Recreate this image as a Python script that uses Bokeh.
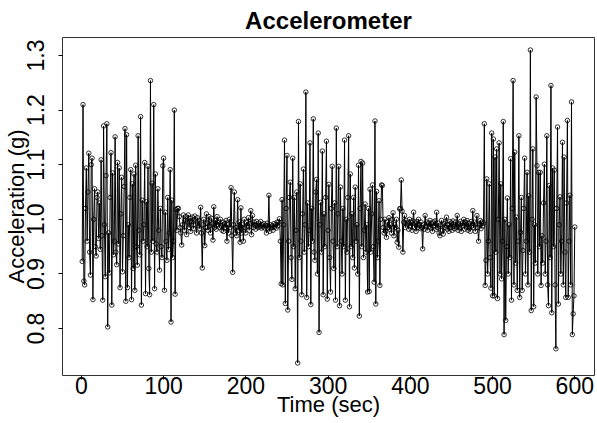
from bokeh.plotting import figure
from bokeh.models import FixedTicker, Range1d, PrintfTickFormatter
from bokeh.embed import file_html
from bokeh.resources import INLINE

# Accelerometer readings (g), one per second
active_1 = [
    0.923, 1.210, 0.887, 0.880, 1.020, 1.094, 0.960, 1.050, 1.121, 0.940,
    0.898, 1.100, 1.112, 0.853, 1.000, 1.056, 0.950, 0.933, 1.040, 1.050,
    0.965, 1.030, 0.945, 1.109, 0.970, 0.852, 1.171, 0.990, 0.895, 1.080,
    1.175, 0.803, 0.975, 0.902, 1.040, 1.122, 0.843, 1.085, 0.935, 0.960,
    1.151, 0.940, 0.917, 1.104, 0.955, 1.094, 0.875, 1.010, 1.077, 0.904,
    0.970, 1.060, 1.166, 0.850, 1.155, 0.875, 0.990, 0.930, 1.040, 1.091,
    0.853, 1.065, 0.910, 1.083, 0.870, 1.099, 0.950, 0.916, 1.153, 0.980,
    0.935, 1.188, 0.843, 1.035, 0.960, 0.990, 1.104, 0.864, 1.032, 0.950,
    1.097, 0.910, 0.862, 1.254, 0.940, 1.066, 0.960, 1.210, 0.873, 1.083,
    0.955, 0.940, 1.056, 0.980, 0.907, 1.020, 0.950, 0.930, 1.098, 1.112,
    0.870, 1.013, 0.960, 0.925, 1.040, 0.945, 0.975, 1.091, 0.812, 1.035,
    0.930, 0.960, 1.200, 0.863, 1.018, 0.980, 1.020, 1.020,
]
quiet_1 = [
    1.005, 0.985, 0.975, 0.953, 0.990, 1.008, 0.980, 0.998, 1.005, 0.972,
    0.995, 1.008, 0.985, 1.002, 0.978, 0.996, 1.004, 0.983, 0.999, 1.006,
    0.990, 0.975, 1.003, 0.988, 0.998, 0.983, 1.022, 0.975, 0.911, 0.990,
    1.000, 0.952, 0.985, 1.010, 0.993, 0.980, 1.005, 0.988, 0.975, 1.002,
    0.992, 0.962, 1.023, 0.985, 0.998, 0.982, 1.005, 0.990, 0.995, 0.985,
    1.000, 0.988, 0.980, 0.995, 0.978, 0.992, 0.985, 0.998, 0.960, 0.990,
    0.975, 1.000, 0.985, 1.058, 0.970, 0.903, 0.990, 1.050, 0.975, 0.985,
    0.970, 1.036, 0.980, 0.995, 0.958, 1.021, 0.975, 0.990, 0.960, 1.000,
    0.985, 0.975, 0.995, 0.988, 1.003, 0.980, 0.992, 1.016, 0.972, 1.007,
    0.985, 0.995, 0.990, 0.982, 0.996, 0.988, 0.985, 0.993, 0.987, 0.996,
    0.984, 0.990, 0.986, 0.992, 0.984, 0.989, 0.975, 0.993, 0.983, 1.044,
    0.978, 0.990, 0.985, 0.988, 0.980, 0.992, 0.986, 0.990, 0.984, 0.995,
    0.988,
]
active_2 = [
    0.995, 1.001, 0.960, 0.882, 1.036, 0.880, 0.990, 1.145, 0.846, 1.020,
    1.117, 0.834, 0.960, 1.040, 1.068, 0.930, 0.890, 1.112, 0.950, 1.040,
    0.873, 0.980, 1.050, 0.737, 1.179, 0.930, 1.065, 0.960, 0.862, 1.010,
    1.092, 0.940, 0.990, 1.233, 0.857, 1.030, 0.950, 0.980, 1.140, 0.844,
    1.020, 0.960, 1.184, 0.940, 0.925, 1.050, 1.073, 0.900, 1.158, 0.793,
    0.990, 1.031, 0.940, 1.125, 0.862, 1.010, 0.950, 1.040, 1.143, 0.854,
    0.980, 1.064, 0.930, 0.867, 1.020, 1.097, 0.960, 0.910, 1.030, 0.852,
    1.167, 0.950, 1.010, 1.097, 0.842, 1.059, 0.960, 0.900, 1.020, 0.950,
    1.145, 0.852, 1.000, 0.940, 1.040, 1.153, 0.840, 1.083, 0.950, 1.010,
    0.930, 1.040, 0.911, 1.059, 0.960, 0.990, 0.900, 1.099, 0.823, 1.020,
    1.106, 0.950, 1.103, 0.930, 0.980, 1.028, 0.940, 0.990, 0.867, 1.020,
    0.868, 1.055, 0.940, 1.010, 1.063, 0.950, 0.885, 1.180, 0.845, 1.051,
    0.930, 0.960, 1.034, 0.879, 1.000, 1.063, 1.062,
]
quiet_2 = [
    0.985, 0.975, 1.000, 0.978, 0.967, 0.995, 0.985, 1.003, 0.982, 0.990,
    0.975, 1.000, 1.012, 0.970, 0.990, 0.985, 1.000, 0.958, 0.980, 0.949,
    1.019, 1.020, 1.072, 1.015, 0.940, 0.995, 1.007, 0.985, 0.998, 0.990,
    0.993, 0.982, 1.000, 0.988, 0.995, 0.980, 0.997, 1.013, 0.985, 0.993,
    0.978, 0.996, 0.985, 1.000, 0.990, 0.983, 0.995, 0.985, 0.946, 0.990,
    0.982, 1.007, 0.988, 0.995, 0.980, 0.993, 0.986, 0.998, 0.984, 0.992,
    0.978, 0.995, 0.988, 0.997, 0.982, 1.013, 0.985, 0.993, 0.975, 0.970,
    0.990, 0.998, 0.980, 0.973, 0.992, 0.985, 0.996, 1.004, 0.982, 0.990,
    0.978, 0.996, 0.985, 0.993, 0.980, 0.997, 0.987, 0.983, 0.995, 0.986,
    1.007, 0.980, 0.992, 0.985, 0.996, 0.978, 0.993, 0.988, 1.000, 0.982,
    0.995, 0.986, 0.998, 0.980, 0.993, 0.985, 0.978, 0.996, 0.988, 1.016,
    0.985, 0.995, 0.978, 0.992, 1.007, 0.985, 0.960, 0.990, 0.998, 0.983,
    0.995, 0.988, 0.993,
]
active_3 = [
    1.175, 0.879, 0.925, 1.074, 0.900, 0.960, 1.065, 0.930, 0.874, 1.158,
    0.860, 1.147, 0.860, 1.114, 0.940, 1.129, 0.855, 1.000, 1.140, 0.900,
    1.065, 0.891, 0.960, 1.179, 0.789, 1.000, 0.815, 0.950, 1.039, 0.900,
    0.990, 0.930, 1.111, 0.852, 1.020, 1.254, 0.880, 1.123, 0.920, 1.004,
    0.870, 0.960, 1.153, 0.857, 0.976, 1.040, 0.870, 0.943, 1.020, 1.112,
    0.900, 0.960, 1.086, 0.880, 1.043, 0.940, 1.310, 0.833, 1.000, 1.129,
    0.840, 0.990, 0.920, 1.224, 1.098, 0.900, 1.086, 0.950, 1.086, 0.879,
    0.970, 0.920, 1.030, 1.101, 0.900, 0.960, 1.153, 0.880, 0.842, 1.062,
    0.930, 1.245, 0.829, 1.094, 0.950, 1.090, 0.880, 0.763, 1.020, 1.169,
    0.845, 0.990, 1.041, 0.900, 0.960, 1.141, 0.880, 1.114, 0.940, 0.857,
    1.030, 1.181, 0.857, 0.960, 1.044, 0.880, 1.215, 0.789, 0.827, 0.860,
    0.986,
]

accel = active_1 + quiet_1 + active_2 + quiet_2 + active_3
seconds = list(range(1, len(accel) + 1))

x_ticks = [0, 100, 200, 300, 400, 500, 600]
y_ticks = [0.8, 0.9, 1.0, 1.1, 1.2, 1.3]

# R-style 4% range expansion
xpad = 0.04 * (max(seconds) - min(seconds))
ypad = 0.04 * (max(accel) - min(accel))

FONT = "Liberation Sans"

p = figure(
    width=597, height=423,
    output_backend="svg", toolbar_location=None,
    x_range=Range1d(min(seconds) - xpad, max(seconds) + xpad),
    y_range=Range1d(min(accel) - ypad, max(accel) + ypad),
    min_border_left=61, min_border_right=3,
    min_border_top=37, min_border_bottom=48,
    title="Accelerometer",
)
p.title.align = "center"
p.title.text_font = FONT
p.title.text_font_size = "24px"
p.title.text_font_style = "bold"
p.title.text_color = "black"
p.title.standoff = 8

p.background_fill_color = "white"
p.border_fill_color = "white"
p.outline_line_color = "#333333"
p.outline_line_width = 1
p.xgrid.visible = False
p.ygrid.visible = False

p.line(seconds, accel, line_color="black", line_width=1)
p.scatter(seconds, accel, marker="circle", size=4.5, line_color="black",
          fill_color=None, line_width=0.8)

xa = p.xaxis[0]
xa.ticker = FixedTicker(ticks=x_ticks)
xa.axis_label = "Time (sec)"
ya = p.yaxis[0]
ya.ticker = FixedTicker(ticks=y_ticks)
ya.formatter = PrintfTickFormatter(format="%.1f")
ya.axis_label = "Acceleration (g)"
ya.major_label_orientation = "vertical"

for ax in (xa, ya):
    ax.axis_line_color = None
    ax.minor_tick_line_color = None
    ax.major_tick_line_color = "black"
    ax.major_tick_in = 0
    ax.major_tick_out = 4
    ax.major_label_text_font = FONT
    ax.major_label_text_font_size = "23px"
    ax.major_label_text_color = "black"
    ax.axis_label_text_font = FONT
    ax.axis_label_text_font_size = "22px"
    ax.axis_label_text_font_style = "normal"
    ax.axis_label_text_color = "black"

xa.major_label_standoff = -3
xa.axis_label_standoff = -5
ya.major_label_standoff = 14
ya.axis_label_standoff = -4

open("out.html", "w").write(file_html(p, INLINE))
